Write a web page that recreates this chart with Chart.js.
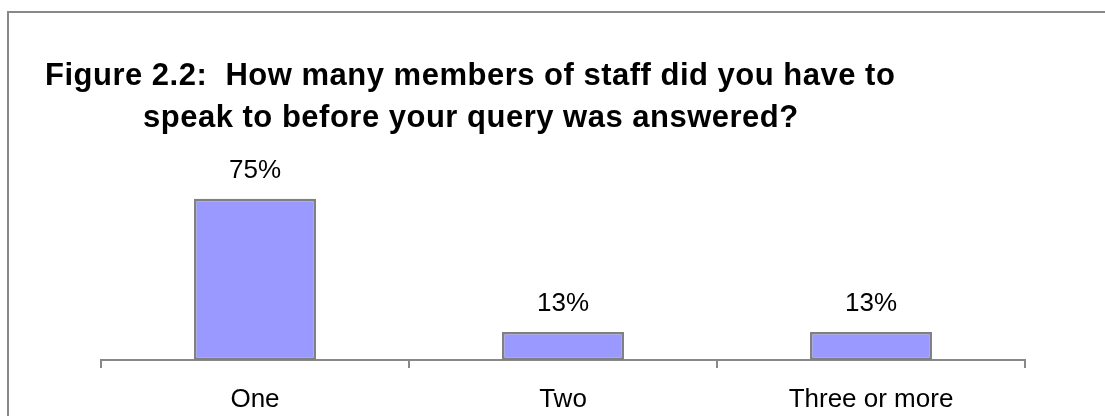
<!DOCTYPE html>
<html>
<head>
<meta charset="utf-8">
<script src="https://cdn.jsdelivr.net/npm/chart.js@4.4.1/dist/chart.umd.min.js"></script>
<style>
  html, body { margin: 0; padding: 0; background: #fff; }
  #wrap { width: 1105px; height: 416px; }
</style>
</head>
<body>
<div id="wrap"><canvas id="chart"></canvas></div>
<script>
var answers = ["One", "Two", "Three or more"];
var shares = [75, 13, 13];
var titleLines = [
  "Figure 2.2:  How many members of staff did you have to",
  "speak to before your query was answered?"
];

// outer frame plus the two title lines (second one hangs under "How")
var frameAndTitle = {
  id: 'frameAndTitle',
  beforeDraw: function(chart) {
    var c = chart.ctx;
    c.save();
    c.strokeStyle = '#888888';
    c.lineWidth = 2;
    c.beginPath();
    c.moveTo(8, 416);
    c.lineTo(8, 12);
    c.lineTo(1105, 12);
    c.stroke();
    c.fillStyle = '#000';
    c.font = 'bold 31px "Liberation Sans", Arial, sans-serif';
    c.letterSpacing = '0.5px';
    c.textBaseline = 'alphabetic';
    c.fillText(titleLines[0], 45, 85);
    c.fillText(titleLines[1], 143, 127);
    c.restore();
  }
};

// percentage above each bar
var valueLabels = {
  id: 'valueLabels',
  afterDatasetsDraw: function(chart) {
    var c = chart.ctx;
    var meta = chart.getDatasetMeta(0);
    c.save();
    c.fillStyle = '#000';
    c.font = '26px "Liberation Sans", Arial, sans-serif';
    c.textAlign = 'center';
    c.textBaseline = 'alphabetic';
    meta.data.forEach(function(bar, i) {
      c.fillText(shares[i] + '%', bar.x, bar.y - 21);
    });
    c.restore();
  }
};

var chart = new Chart(document.getElementById('chart'), {
  type: 'bar',
  data: {
    labels: answers,
    datasets: [{
      data: shares,
      backgroundColor: '#9999FF',
      borderColor: '#808080',
      borderWidth: 2.5,
      borderSkipped: false,
      barPercentage: 1,
      categoryPercentage: 0.396
    }]
  },
  options: {
    responsive: true,
    maintainAspectRatio: false,
    animation: false,
    layout: { padding: { left: 101, right: 80, top: 145, bottom: 0 } },
    plugins: {
      legend: { display: false },
      tooltip: { enabled: false },
      title: { display: false }
    },
    scales: {
      y: { display: false, min: 0, max: 100 },
      x: {
        offset: true,
        afterFit: function(scale) { scale.height = 56; },
        border: { display: true, color: '#888888', width: 2 },
        grid: {
          offset: true,
          drawOnChartArea: false,
          drawTicks: true,
          tickLength: 8,
          color: '#888888',
          lineWidth: 2
        },
        ticks: {
          color: '#000',
          padding: 16,
          font: { family: '"Liberation Sans", Arial, sans-serif', size: 26 }
        }
      }
    }
  },
  plugins: [frameAndTitle, valueLabels]
});
</script>
</body>
</html>
